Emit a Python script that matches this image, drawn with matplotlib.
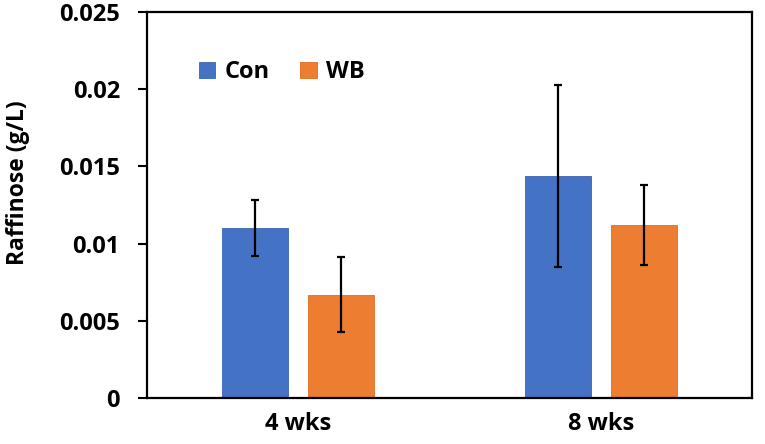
import numpy as np
import matplotlib.pyplot as plt

plt.rcParams['font.family'] = ['Open Sans', 'DejaVu Sans']
plt.rcParams['font.weight'] = 'bold'

categories = ['4 wks', '8 wks']
con_vals = [0.0110, 0.0144]
con_err = [0.0018, 0.0059]
wb_vals = [0.0067, 0.0112]
wb_err = [0.0024, 0.0026]
yticks = [0, 0.005, 0.01, 0.015, 0.02, 0.025]
ytick_labels = ['0', '0.005', '0.01', '0.015', '0.02', '0.025']

fig = plt.figure(figsize=(7.65, 4.44), dpi=100)
ax = fig.add_axes([147 / 765, 1 - 398 / 444, 605 / 765, 386 / 444])

x = np.arange(len(categories))
width = 0.218
off = 0.142
err_kw = dict(ecolor='black', elinewidth=1.6, capsize=3, capthick=1.6)
ax.bar(x - off, con_vals, width, yerr=con_err, color='#4472C4',
       edgecolor='#3a63b0', linewidth=0.6, label='Con', error_kw=err_kw)
ax.bar(x + off, wb_vals, width, yerr=wb_err, color='#ED7D31',
       edgecolor='#e06e20', linewidth=0.6, label='WB', error_kw=err_kw)

ax.set_xlim(-0.5, 1.5)
ax.set_ylim(0, 0.025)
ax.set_yticks(yticks)
ax.set_yticklabels(ytick_labels)
ax.set_xticks(x)
ax.set_xticklabels(categories)
ax.tick_params(axis='y', direction='out', length=6.5, width=1.5, labelsize=17, pad=13)
ax.tick_params(axis='x', length=0, labelsize=17, pad=10)
for s in ax.spines.values():
    s.set_linewidth(1.6)
    s.set_color('black')

fig.text(18 / 765, 1 - 183 / 444, 'Raffinose (g/L)', rotation=90,
         ha='center', va='center', fontsize=16.5, fontweight='bold')

ax.legend(loc='upper left', bbox_to_anchor=(0.05, 0.93), ncol=2, frameon=False,
          fontsize=17, handlelength=0.7, handleheight=0.7, handletextpad=0.4,
          columnspacing=1.3)

fig.savefig('out.png', dpi=100)
